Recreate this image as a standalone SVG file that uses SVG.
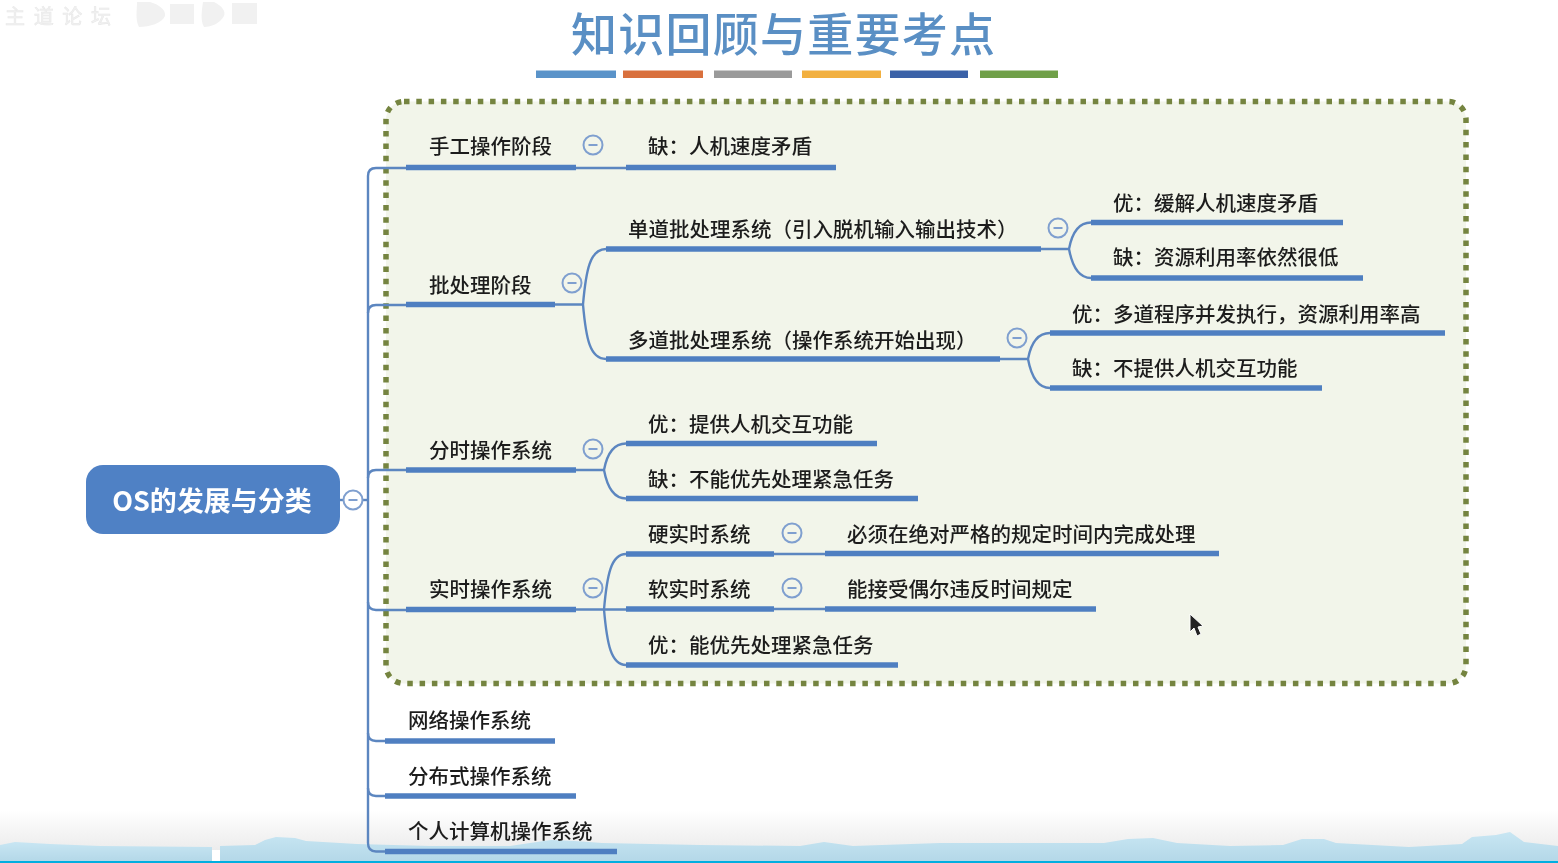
<svg xmlns="http://www.w3.org/2000/svg" width="1558" height="863" viewBox="0 0 1558 863">
<style>
text{font-family:"Noto Sans CJK SC","Noto Sans",sans-serif}
.t{font-size:20.5px;fill:#1c1c1c;font-weight:500}
.u{stroke:#4f7fc1;stroke-width:5.5;fill:none}
.c{stroke:#5c86c0;stroke-width:2.4;fill:none}
.m{fill:#fff;stroke:#7f9fcf;stroke-width:2}
.d{stroke:#7f9fcf;stroke-width:2}
.wm{fill:#f1f1f1}
</style>
<defs>
<filter id="soft" x="0" y="0" width="1" height="1"><feGaussianBlur stdDeviation="0.4"/></filter>
<linearGradient id="fade" x1="0" y1="0" x2="0" y2="1"><stop offset="0" stop-color="#fff"/><stop offset="1" stop-color="#ececec"/></linearGradient>
<linearGradient id="hill" x1="0" y1="0" x2="0" y2="1"><stop offset="0" stop-color="#c8e6f3"/><stop offset="1" stop-color="#b4d8e8"/></linearGradient>
<g id="minus"><circle r="9.5" class="m"/><line x1="-4.5" x2="4.5" class="d"/></g>
<g id="minusb"><circle r="9.5" class="m" style="fill:#f2f5ea"/><line x1="-4.5" x2="4.5" class="d"/></g>
</defs>
<rect width="1558" height="863" fill="#fff"/>
<g filter="url(#soft)">
<g id="footer">
<rect y="810" width="1558" height="40" fill="url(#fade)"/>
<path fill="url(#hill)" d="M0 845 15 842 50 844 100 846 212 847 212 861 0 861Z"/>
<path fill="url(#hill)" d="M220 846 255 845 265 840 276 837 295 838 306 841 357 844 430 846 510 846 530 843 551 840 575 841 602 843 700 845 800 846 824 842 853 846 940 843 1104 843 1128 839 1153 838 1177 843 1230 846 1283 845 1302 839 1324 839 1336 843 1409 847 1462 844 1472 837 1496 835 1510 832 1524 842 1558 846 1558 861 220 861Z"/>
<rect y="861" width="1558" height="2" fill="#00aee0"/>
</g>
<g id="watermark">
<text x="5" y="24" font-size="20" class="wm" stroke="#e9e9e9" stroke-width=".6" textLength="106" lengthAdjust="spacing">主道论坛</text>
<path class="wm" d="M137 2H150C160 5 166 10 165 16 162 23 150 27 139 27 135 20 137 10 137 2Z"/>
<path class="wm" d="M203 2H214C222 6 226 11 224 16 220 23 212 27 204 27 200 20 202 10 203 2Z"/>
<rect class="wm" x="170" y="4" width="24" height="20"/>
<rect class="wm" x="232" y="3" width="25" height="21"/>
</g>
<g id="title">
<text x="783" y="51" text-anchor="middle" font-size="46" font-weight="500" fill="#5a8fc4" textLength="424" lengthAdjust="spacing">知识回顾与重要考点</text>
<rect x="536" y="70.5" width="80" height="7.5" fill="#5a93c9"/>
<rect x="623" y="70.5" width="80" height="7.5" fill="#d9703d"/>
<rect x="714" y="70.5" width="78" height="7.5" fill="#9a9a9a"/>
<rect x="802" y="70.5" width="79" height="7.5" fill="#f2b040"/>
<rect x="890" y="70.5" width="78" height="7.5" fill="#3a62a8"/>
<rect x="980" y="70.5" width="78" height="7.5" fill="#70a04a"/>
</g>
<rect id="highlight" x="386" y="101.5" width="1080" height="582" rx="18" fill="#f2f5ea" stroke="#74843f" stroke-width="5.5" stroke-dasharray="5.5 6.8"/>
<g id="connectors">
<path class="c" d="M340 500H368"/>
<path class="c" d="M406 168H376Q368 168 368 176V843Q368 851.500 376 851.500H386"/>
<path class="c" d="M406 305H376Q368 305 368 313"/>
<path class="c" d="M406 470H376Q368 470 368 478"/>
<path class="c" d="M406 610H376Q368 610 368 602"/>
<path class="c" d="M386 741H376Q368 741 368 733"/>
<path class="c" d="M386 796H376Q368 796 368 788"/>
<path class="c" d="M576 168H626"/>
<path class="c" d="M555 304.500H583M583 304.500C586 270 590 249 606 249M583 304.500C586 339 590 359 606 359"/>
<path class="c" d="M1041 249H1069M1069 249C1072 233 1078 222.500 1091 222.500M1069 249C1072 265 1078 278 1091 278"/>
<path class="c" d="M1000 359H1028M1028 359C1031 343 1037 333 1050 333M1028 359C1031 375 1037 388 1050 388"/>
<path class="c" d="M576 470H604M604 470C607 454 613 443.500 626 443.500M604 470C607 486 613 498.500 626 498.500"/>
<path class="c" d="M576 609.500H604M604 609.500C607 575 611 554 626 554M604 609.500H626M604 609.500C607 644 611 665 626 665"/>
<path class="c" d="M774 554H825"/>
<path class="c" d="M774 609H825"/>
</g>
<g id="root"><rect x="86" y="465" width="254" height="69" rx="17" fill="#5081c5"/><text x="212" y="511" text-anchor="middle" font-size="27" font-weight="700" fill="#fff">OS的发展与分类</text><use href="#minus" x="353" y="500"/></g>
<g id="n1"><text class="t" x="429" y="154">手工操作阶段</text><path class="u" d="M406 167.500H576"/><use href="#minusb" x="593" y="145"/></g>
<g id="n1a"><text class="t" x="648" y="154">缺：人机速度矛盾</text><path class="u" d="M626 167.500H836"/></g>
<g id="n2"><text class="t" x="429" y="293">批处理阶段</text><path class="u" d="M406 304.500H555"/><use href="#minusb" x="572" y="283"/></g>
<g id="n2a"><text class="t" x="628" y="237">单道批处理系统（引入脱机输入输出技术）</text><path class="u" d="M606 249H1041"/><use href="#minusb" x="1058" y="228"/></g>
<g id="n2a1"><text class="t" x="1113" y="211">优：缓解人机速度矛盾</text><path class="u" d="M1091 222.500H1343"/></g>
<g id="n2a2"><text class="t" x="1113" y="265">缺：资源利用率依然很低</text><path class="u" d="M1091 278H1363"/></g>
<g id="n2b"><text class="t" x="628" y="348">多道批处理系统（操作系统开始出现）</text><path class="u" d="M606 359H1000"/><use href="#minusb" x="1017" y="338"/></g>
<g id="n2b1"><text class="t" x="1072" y="322">优：多道程序并发执行，资源利用率高</text><path class="u" d="M1050 333H1445"/></g>
<g id="n2b2"><text class="t" x="1072" y="376">缺：不提供人机交互功能</text><path class="u" d="M1050 388H1322"/></g>
<g id="n3"><text class="t" x="429" y="458">分时操作系统</text><path class="u" d="M406 470H576"/><use href="#minusb" x="593" y="449"/></g>
<g id="n3a"><text class="t" x="648" y="432">优：提供人机交互功能</text><path class="u" d="M626 443.500H877"/></g>
<g id="n3b"><text class="t" x="648" y="487">缺：不能优先处理紧急任务</text><path class="u" d="M626 498.500H918"/></g>
<g id="n4"><text class="t" x="429" y="597">实时操作系统</text><path class="u" d="M406 609.500H576"/><use href="#minusb" x="593" y="588"/></g>
<g id="n4a"><text class="t" x="648" y="542">硬实时系统</text><path class="u" d="M626 554H774"/><use href="#minusb" x="792" y="533"/></g>
<g id="n4a1"><text class="t" x="847" y="542">必须在绝对严格的规定时间内完成处理</text><path class="u" d="M825 553.500H1219"/></g>
<g id="n4b"><text class="t" x="648" y="597">软实时系统</text><path class="u" d="M626 609H774"/><use href="#minusb" x="792" y="588"/></g>
<g id="n4b1"><text class="t" x="847" y="597">能接受偶尔违反时间规定</text><path class="u" d="M825 609H1096"/></g>
<g id="n4c"><text class="t" x="648" y="653">优：能优先处理紧急任务</text><path class="u" d="M626 665H898"/></g>
<g id="n5"><text class="t" x="408" y="728">网络操作系统</text><path class="u" d="M385 741H555"/></g>
<g id="n6"><text class="t" x="408" y="784">分布式操作系统</text><path class="u" d="M385 796H576"/></g>
<g id="n7"><text class="t" x="408" y="839">个人计算机操作系统</text><path class="u" d="M385 851.500H617"/></g>
<path id="cursor" d="M1190 614V632L1194 628 1197 636 1201 634 1198 627 1203 626Z" fill="#222" stroke="#fff" stroke-width="1"/>
</g>
</svg>
